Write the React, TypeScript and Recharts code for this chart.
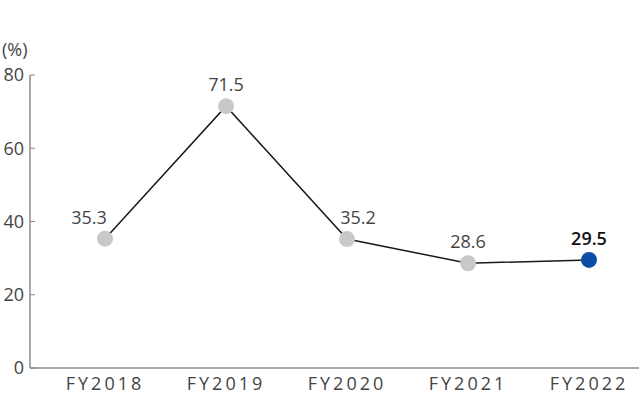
import React from "react";
import { LineChart, Line, XAxis, YAxis } from "recharts";

const categories = ["FY2018", "FY2019", "FY2020", "FY2021", "FY2022"];
const ratios = [35.3, 71.5, 35.2, 28.6, 29.5];
const yTicks = [0, 20, 40, 60, 80];

const chartData = categories.map((c, i) => ({ idx: i, name: c, value: ratios[i] }));

const FONT = "'Open Sans', 'Noto Sans', sans-serif";
const GRAY_DOT = "#c8c8c8";
const BLUE_DOT = "#0b4ea6";
const last = categories.length - 1;

// nudges a few labels sideways so they don't sit on the line
const labelShift = [-16, 0, 11, 0, 0];

const renderDot = (props: any) => {
  const { cx, cy, index } = props;
  return (
    <circle
      key={`dot-${index}`}
      cx={cx}
      cy={cy}
      r={8}
      fill={index === last ? BLUE_DOT : GRAY_DOT}
      stroke="none"
    />
  );
};

const renderLabel = (props: any) => {
  const { x, y, value, index } = props;
  const hi = index === last;
  return (
    <text
      key={`lbl-${index}`}
      x={x + (labelShift[index] || 0)}
      y={y - 15}
      textAnchor="middle"
      fontFamily={FONT}
      fontSize={18}
      fontWeight={hi ? 600 : 400}
      fill={hi ? "#111" : "#444"}
    >
      {value.toFixed(1)}
    </text>
  );
};

export default function App() {
  return (
    <div style={{ position: "fixed", left: 0, top: 0, width: 640, height: 396, background: "#fff" }}>
      <LineChart
        width={640}
        height={396}
        data={chartData}
        margin={{ top: 75, right: 1, bottom: 0, left: 0 }}
      >
        <XAxis
          dataKey="idx"
          type="number"
          domain={[-0.62, 4.413]}
          ticks={[0, 1, 2, 3, 4]}
          tickFormatter={(v: number) => categories[v]}
          allowDataOverflow
          height={28}
          axisLine={{ stroke: "#8a8a8a", strokeWidth: 1.5 }}
          tickLine={false}
          tickSize={0}
          tickMargin={9}
          tick={{ fill: "#444", fontSize: 18, fontFamily: FONT, letterSpacing: 3 }}
        />
        <YAxis
          domain={[0, 80]}
          ticks={yTicks}
          width={30}
          axisLine={{ stroke: "#8a8a8a", strokeWidth: 1.5 }}
          tickLine={{ stroke: "#8a8a8a" }}
          tickSize={-5}
          tickMargin={11}
          tick={{ fill: "#444", fontSize: 18, fontFamily: FONT }}
          label={{
            content: (p: any) => (
              <text x={2} y={p.viewBox.y - 19} fontFamily={FONT} fontSize={18} fill="#444">
                (%)
              </text>
            ),
          }}
        />
        <Line
          type="linear"
          dataKey="value"
          stroke="#1a1a1a"
          strokeWidth={1.5}
          dot={renderDot}
          activeDot={false}
          label={renderLabel}
          isAnimationActive={false}
        />
      </LineChart>
    </div>
  );
}
